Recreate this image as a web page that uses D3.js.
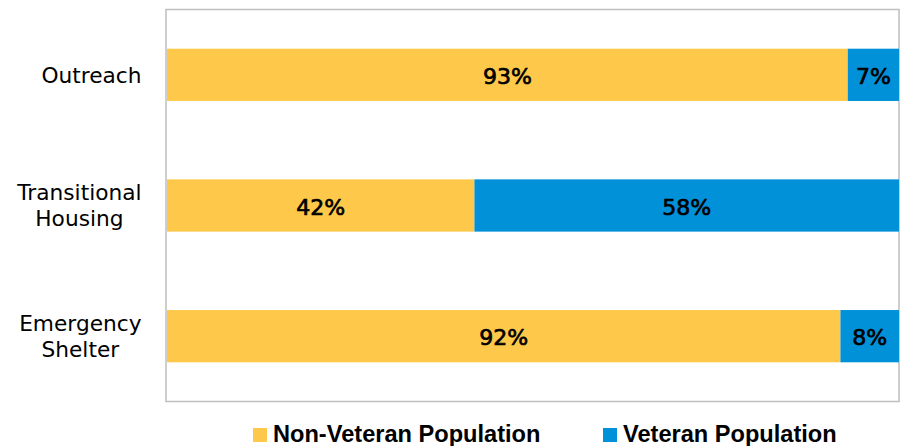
<!DOCTYPE html>
<html>
<head>
<meta charset="utf-8">
<script src="https://cdn.jsdelivr.net/npm/d3@7"></script>
<style>
  html, body { margin: 0; padding: 0; background: #fff; }
  svg { display: block; }
</style>
</head>
<body>
<svg id="chart" width="901" height="446"></svg>
<script>
// ---- Data ----
const categories = [["Outreach"], ["Transitional", "Housing"], ["Emergency", "Shelter"]];
const categoryKeys = ["Outreach", "Transitional Housing", "Emergency Shelter"];
const nonVeteran = [93, 42, 92];
const veteran = [7, 58, 8];
const seriesNames = ["Non-Veteran Population", "Veteran Population"];
const seriesColors = ["#FEC94A", "#0091D8"];

const svg = d3.select("#chart");
const plot = { left: 166, right: 899, top: 9.5, bottom: 401.5 };

const x = d3.scaleLinear().domain([0, 100]).range([plot.left + 1, plot.right]);
const y = d3.scaleBand().domain(categoryKeys).range([plot.top, plot.bottom])
  .paddingInner(0.6).paddingOuter(0.3);

// plot frame
svg.append("rect")
  .attr("x", plot.left).attr("y", plot.top)
  .attr("width", plot.right - plot.left).attr("height", plot.bottom - plot.top)
  .attr("fill", "none").attr("stroke", "#BFBFBF").attr("stroke-width", 1.5);

const rows = categoryKeys.map((k, i) => ({ key: k, vals: [nonVeteran[i], veteran[i]] }));

rows.forEach(r => {
  let acc = 0;
  r.vals.forEach((v, si) => {
    const x0 = x(acc), x1 = x(acc + v);
    svg.append("rect")
      .attr("x", x0).attr("y", y(r.key))
      .attr("width", x1 - x0).attr("height", y.bandwidth())
      .attr("fill", seriesColors[si]);
    svg.append("text")
      .attr("x", (x0 + x1) / 2)
      .attr("y", y(r.key) + y.bandwidth() / 2 + 9)
      .attr("text-anchor", "middle")
      .attr("font-family", "DejaVu Sans, sans-serif")
      .attr("font-size", 22)
      .attr("fill", "#000")
      .attr("stroke", "#000").attr("stroke-width", 0.7)
      .text(v + "%");
    acc += v;
  });
});

// category labels (multi-line, block right-aligned, lines centered)
const labelRight = 141.5;
const lineH = 26;
categories.forEach((lines, i) => {
  const cy = y(categoryKeys[i]) + y.bandwidth() / 2;
  const g = svg.append("g");
  const texts = lines.map((ln, j) => g.append("text")
    .attr("font-family", "DejaVu Sans, sans-serif")
    .attr("font-size", 21.7)
    .attr("fill", "#000")
    .attr("text-anchor", "middle")
    .attr("y", cy + 7.8 + (j - (lines.length - 1) / 2) * lineH)
    .text(ln));
  const maxW = d3.max(texts, t => t.node().getComputedTextLength());
  texts.forEach(t => t.attr("x", labelRight - maxW / 2));
});

// legend
const legendX = [253, 603];
seriesNames.forEach((name, i) => {
  svg.append("rect")
    .attr("x", legendX[i]).attr("y", 428)
    .attr("width", 14).attr("height", 14)
    .attr("fill", seriesColors[i]);
  svg.append("text")
    .attr("x", legendX[i] + 20).attr("y", 442)
    .attr("font-family", "Liberation Sans, Arial, sans-serif")
    .attr("font-weight", "bold")
    .attr("font-size", 23.6)
    .attr("fill", "#000")
    .text(name);
});
</script>
</body>
</html>
